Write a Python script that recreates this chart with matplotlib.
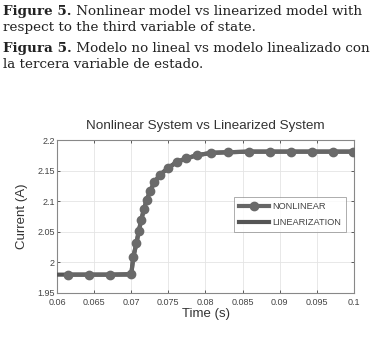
import matplotlib
matplotlib.use("Agg")
import matplotlib.pyplot as plt

# Data
t_nl = [0.0615, 0.0643, 0.0671, 0.0700, 0.07028, 0.07069, 0.07101, 0.07136, 0.07173,
        0.07209, 0.07253, 0.07311, 0.07388, 0.07492, 0.07613, 0.0774, 0.07883, 0.08075,
        0.08309, 0.08592, 0.08871, 0.09154, 0.09437, 0.09716, 0.09993]
i_nl = [1.980, 1.980, 1.980, 1.981, 2.009, 2.031, 2.051, 2.070, 2.088,
        2.102, 2.116, 2.131, 2.143, 2.154, 2.164, 2.170, 2.175, 2.179,
        2.180, 2.181, 2.181, 2.181, 2.181, 2.181, 2.181]
t_lin = [0.06, 0.0700, 0.07028, 0.07069, 0.07101, 0.07136, 0.07173,
         0.07209, 0.07253, 0.07311, 0.07388, 0.07492, 0.07613, 0.0774, 0.07883, 0.08075,
         0.08309, 0.08592, 0.1]
i_lin = [1.980, 1.980, 2.009, 2.031, 2.051, 2.070, 2.088,
         2.102, 2.116, 2.131, 2.143, 2.154, 2.164, 2.170, 2.175, 2.179,
         2.180, 2.181, 2.181]

xticks = [0.06, 0.065, 0.07, 0.075, 0.08, 0.085, 0.09, 0.095, 0.1]
xticklabels = ["0.06", "0.065", "0.07", "0.075", "0.08", "0.085", "0.09", "0.095", "0.1"]
yticks = [1.95, 2.0, 2.05, 2.1, 2.15, 2.2]
yticklabels = ["1.95", "2", "2.05", "2.1", "2.15", "2.2"]

caption = [
    ("Figure 5.", " Nonlinear model vs linearized model with"),
    ("", "respect to the third variable of state."),
    ("Figura 5.", " Modelo no lineal vs modelo linealizado con"),
    ("", "la tercera variable de estado."),
]

plt.rcParams['font.family'] = ['Liberation Sans', 'DejaVu Sans']

fig = plt.figure(figsize=(3.77, 3.39), dpi=100)
W, H = 377, 339

# Caption
ys = [15, 31, 52, 68]
for (b, r), y in zip(caption, ys):
    x = 3
    if b:
        tb = fig.text(x / W, 1 - y / H, b, fontsize=9.7, fontweight='bold',
                      family='DejaVu Serif', color='#222222', va='baseline')
        fig.canvas.draw()
        bb = tb.get_window_extent()
        x = bb.x1
    fig.text(x / W, 1 - y / H, r, fontsize=9.7, family='DejaVu Serif',
             color='#222222', va='baseline')

ax = fig.add_axes([57 / W, 1 - 293 / H, (354 - 57) / W, (293 - 140) / H])
ax.plot(t_lin, i_lin, color='#555555', lw=3.0, label='LINEARIZATION', zorder=3)
ax.plot(t_nl, i_nl, color='#666666', lw=3.0, marker='o', markersize=6,
        markerfacecolor='#6a6a6a', markeredgecolor='#6a6a6a', label='NONLINEAR', zorder=4)

ax.set_xlim(0.06, 0.1)
ax.set_ylim(1.95, 2.2)
ax.set_xticks(xticks)
ax.set_xticklabels(xticklabels)
ax.set_yticks(yticks)
ax.set_yticklabels(yticklabels)
ax.tick_params(direction='in', length=2, width=0.6, top=True, right=True,
               labelsize=6.5, colors='#444444')
ax.tick_params(axis='x', pad=3.5)
ax.tick_params(axis='y', pad=1.5)
ax.grid(True, color='#e4e4e4', lw=0.6)
for s in ax.spines.values():
    s.set_color('#888888')
    s.set_linewidth(0.8)

ax.set_title('Nonlinear System vs Linearized System', fontsize=9.7, color='#333333', pad=8)
ax.set_xlabel('Time (s)', fontsize=9.5, color='#333333', labelpad=1)
ax.set_ylabel('Current (A)', fontsize=9.5, color='#333333', labelpad=7)

handles, labels = ax.get_legend_handles_labels()
leg = ax.legend(handles[::-1], labels[::-1], loc='lower right', bbox_to_anchor=(0.973, 0.399),
                borderaxespad=0, fontsize=6.7, frameon=True, fancybox=False, edgecolor='#888888',
                handlelength=3.2, borderpad=0.55, labelspacing=0.7, handletextpad=0.3)
leg.get_frame().set_linewidth(0.6)
for txt in leg.get_texts():
    txt.set_color('#444444')

fig.savefig('out.png', dpi=100)
